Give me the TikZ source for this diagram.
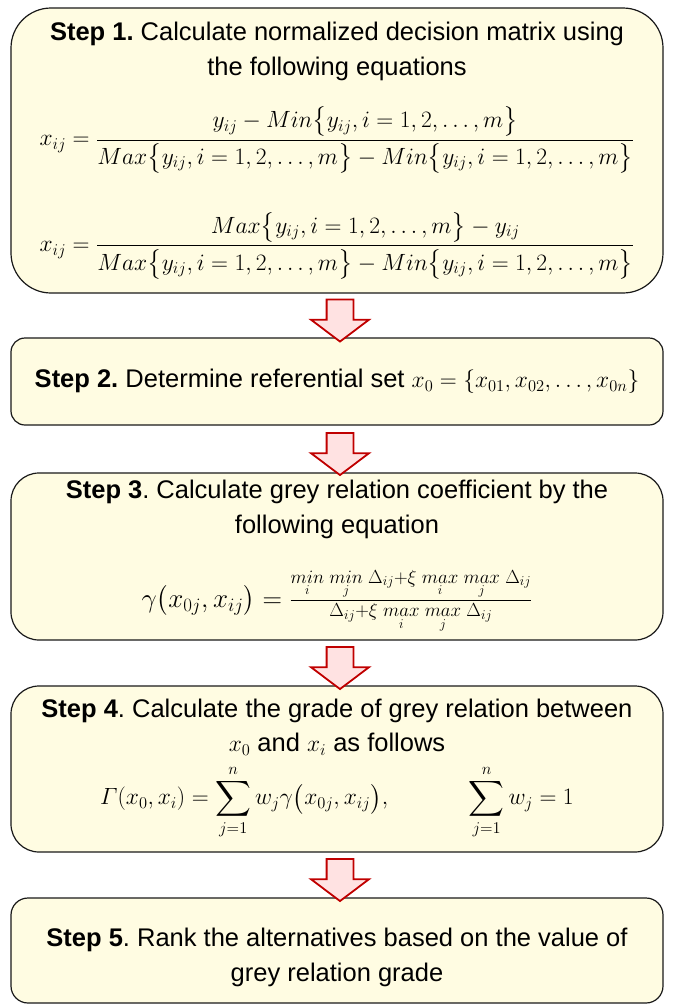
\documentclass[tikz,border=0pt]{standalone}
\usepackage{fix-cm}
\usepackage{amsmath}
\usepackage[no-math]{fontspec}
\setmainfont{Liberation Sans}[Scale=1.085]
\usepackage{xcolor}
\usetikzlibrary{shapes,arrows,positioning,calc}

\definecolor{boxfill}{RGB}{255,252,226}
\definecolor{arrowred}{RGB}{192,0,0}
\definecolor{arrowfill}{RGB}{255,226,226}

\begin{document}
\frenchspacing
\begin{tikzpicture}[x=1pt,y=-1pt,
    stepbox/.style={rectangle,draw=black!90,line width=1.2pt,fill=boxfill,minimum width=652pt,text width=648pt,align=flush center,inner sep=0pt,font=\fontsize{23.5}{35}\selectfont},
    flowarrow/.style={single arrow,draw=arrowred,fill=arrowfill,line width=1.8pt,shape border rotate=270,minimum height=42pt,minimum width=56pt,single arrow head extend=15.5pt,single arrow tip angle=106,inner sep=12.5pt}]
    \useasboundingbox (0,0) rectangle (673,1005);

    % Step 1: normalized decision matrix
    \node[stepbox,rounded corners=40pt,minimum height=285pt] (step1) at (337,150.5) {\textbf{Step 1.} Calculate normalized decision matrix using\\ the following equations\\[25pt]
    $\displaystyle x_{ij}=\frac{y_{ij}-Min\bigl\{y_{ij},i=1,2,\dots,m\bigr\}}{Max\bigl\{y_{ij},i=1,2,\dots,m\bigr\}-Min\bigl\{y_{ij},i=1,2,\dots,m\bigr\}}$\\[38pt]
    $\displaystyle x_{ij}=\frac{Max\bigl\{y_{ij},i=1,2,\dots,m\bigr\}-y_{ij}}{Max\bigl\{y_{ij},i=1,2,\dots,m\bigr\}-Min\bigl\{y_{ij},i=1,2,\dots,m\bigr\}}$};

    % Step 2: referential set
    \node[stepbox,rounded corners=14pt,minimum height=87pt] (step2) at (337,381.5) {\textbf{Step 2.} Determine referential set $x_0=\{x_{01},x_{02},\dots,x_{0n}\}$};

    % Step 3: grey relation coefficient
    \node[stepbox,rounded corners=28pt,minimum height=167pt] (step3) at (337,556.5) {\textbf{Step 3}. Calculate grey relation coefficient by the\\ following equation\\[30pt]
    {\fontsize{27}{30}\selectfont$\gamma\bigl(x_{0j},x_{ij}\bigr)=\frac{\underset{i}{min}\;\underset{j}{min}\;\Delta_{ij}+\xi\;\underset{i}{max}\;\underset{j}{max}\;\Delta_{ij}}{\Delta_{ij}+\xi\;\underset{i}{max}\;\underset{j}{max}\;\Delta_{ij}}$}};

    % Step 4: grade of grey relation
    \node[stepbox,rounded corners=28pt,minimum height=166pt] (step4) at (337,769) {\textbf{Step 4}. Calculate the grade of grey relation between\\ $x_0$ and $x_i$ as follows\\[8pt]
    $\displaystyle \varGamma(x_0,x_i)=\sum_{j=1}^{n}w_j\gamma\bigl(x_{0j},x_{ij}\bigr),\qquad\quad\sum_{j=1}^{n}w_j=1$};

    % Step 5: ranking
    \node[stepbox,rounded corners=17pt,minimum height=105pt] (step5) at (337,950.5) {\rule{0pt}{33pt}\textbf{Step 5}. Rank the alternatives based on the value of\\ grey relation grade};

    % Arrows
    \node[flowarrow,xshift=3pt] (arr12) at ($(step1.south)!0.5!(step2.north)$) {};
    \node[flowarrow,xshift=3pt] (arr23) at ($(step2.south)!0.5!(step3.north)$) {};
    \node[flowarrow,xshift=3pt] (arr34) at ($(step3.south)!0.5!(step4.north)$) {};
    \node[flowarrow,xshift=3pt] (arr45) at ($(step4.south)!0.5!(step5.north)$) {};
\end{tikzpicture}
\end{document}
